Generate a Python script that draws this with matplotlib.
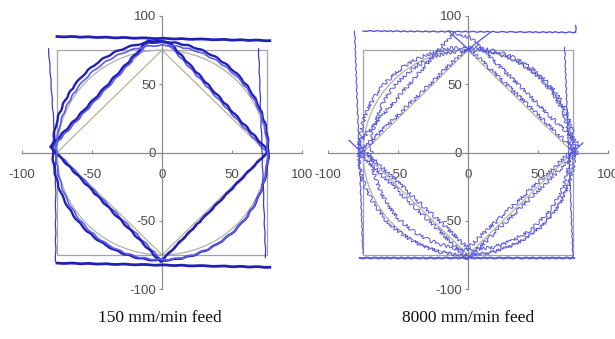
import matplotlib
matplotlib.use("Agg")
import matplotlib.pyplot as plt
from matplotlib.patches import Ellipse, Circle, Rectangle

# ---- axis ticks ----
tick_values = [-100, -50, 0, 50, 100]
tick_labels = ["-100", "-50", "0", "50", "100"]

# ---- programmed reference path (both panels) ----
ref_half = 75          # square half-size and circle radius
ref_diamond_x = [-75, 0, 75, 0, -75]
ref_diamond_y = [0, 75, 0, -75, 0]

# ---- 150 mm/min measured traces ----
slow_top_x, slow_top_y = [-75, 77], [85, 82]
slow_bot_x, slow_bot_y = [-75, 77], [-81, -84]
slow_left_x, slow_left_y = [-81, -76, -76], [76, 2, -80]
slow_right_x, slow_right_y = [69, 74], [76, -77]
slow_dia_x = [-76, -80, -10, 5, 76, -1, -76]
slow_dia_y = [0, 4, 82, 81, 1, -80, 0]
slow_dia2_x = [-75, -79, -9, 4, 75, 0, -75]
slow_dia2_y = [0, 3, 81, 80, 0, -79, 0]
slow_circ = [(-1, 1, 154, 160), (0, 0, 151, 157)]   # cx, cy, width, height

# ---- 8000 mm/min measured traces ----
fast_top_x, fast_top_y = [-75, 77, 77], [89, 88, 93]
fast_bot_x, fast_bot_y = [-77, 76], [-77, -77]
fast_left_x, fast_left_y = [-81, -75], [89, -74]
fast_right_x, fast_right_y = [69, 75], [77, -77]
fast_dia_x = [-78, 0, 78, 0, -78]
fast_dia_y = [0, 77, 0, -78, 0]
fast_dia2_x = [-79, -10, 2, 79, 0, -79]
fast_dia2_y = [6, 88, 84, 6, -70, 6]
fast_spurs = [([-14, 2], [89, 74]), ([16, -2], [88, 74]),
              ([-85, -74], [9, -2]), ([72, 82], [-3, 7])]
fast_circ = [(-1, 1, 154, 152), (2, 2, 142, 146)]

captions = ["150 mm/min feed", "8000 mm/min feed"]

W, H = 615, 339
fig = plt.figure(figsize=(W / 100, H / 100), dpi=100)
fig.patch.set_facecolor("white")

grey_sq = "#a3a3a3"
grey_circ = "#b0b0b0"
grey_dia = "#b4b496"


def make_axes(x0_px):
    ax = fig.add_axes([x0_px / W, (H - 289) / H, 280 / W, 273 / H])
    ax.set_xlim(-100, 100)
    ax.set_ylim(-100, 100)
    ax.patch.set_alpha(0)
    for s in ("top", "right"):
        ax.spines[s].set_visible(False)
    for s in ("left", "bottom"):
        ax.spines[s].set_position(("data", 0))
        ax.spines[s].set_color("#8a8a8a")
        ax.spines[s].set_linewidth(0.9)
    ax.set_xticks(tick_values)
    ax.set_xticklabels(tick_labels)
    ax.set_yticks(tick_values)
    ax.set_yticklabels(tick_labels)
    for lab in ax.get_xticklabels() + ax.get_yticklabels():
        lab.set_fontfamily("Liberation Sans")
        lab.set_fontsize(9.5)
        lab.set_color("#4a4a4a")
    ax.tick_params(axis="x", direction="in", length=2.5, width=0.8,
                   color="#8a8a8a", pad=12)
    ax.tick_params(axis="y", direction="out", length=2.5, width=0.8,
                   color="#8a8a8a", pad=2)
    # programmed reference geometry
    ax.add_patch(Rectangle((-ref_half, -ref_half), 2 * ref_half, 2 * ref_half,
                           fill=False, ec=grey_sq, lw=0.9, zorder=1))
    ax.add_patch(Circle((0, 0), ref_half, fill=False, ec=grey_circ, lw=0.9,
                        zorder=1))
    ax.plot(ref_diamond_x, ref_diamond_y, color=grey_dia, lw=0.9, zorder=1)
    return ax


# ---- left panel: 150 mm/min ----
axL = make_axes(22)
dark = "#2020b8"
light = "#5c5ce8"
wob = (0.5, 16, 2)
for x, y, lw in [(slow_top_x, slow_top_y, 2.0), (slow_bot_x, slow_bot_y, 2.0),
                 (slow_left_x, slow_left_y, 0.9),
                 (slow_right_x, slow_right_y, 0.9)]:
    ln, = axL.plot(x, y, color=dark if lw > 1 else "#3c3cd4", lw=lw, zorder=3)
    ln.set_sketch_params(0.25, 20, 2)
ln, = axL.plot(slow_dia2_x, slow_dia2_y, color=light, lw=1.3, zorder=2)
ln.set_sketch_params(*wob)
ln, = axL.plot(slow_dia_x, slow_dia_y, color=dark, lw=1.7, zorder=3)
ln.set_sketch_params(*wob)
for (cx, cy, w, h), col, lw in zip(slow_circ, [dark, light], [1.7, 1.2]):
    e = Ellipse((cx, cy), w, h, fill=False, ec=col, lw=lw, zorder=3)
    e.set_sketch_params(*wob)
    axL.add_patch(e)

# ---- right panel: 8000 mm/min ----
axR = make_axes(328)
fast = "#5656e0"
noisy = (1.8, 3, 5)
for x, y, lw in [(fast_top_x, fast_top_y, 1.0), (fast_bot_x, fast_bot_y, 1.5),
                 (fast_left_x, fast_left_y, 0.8),
                 (fast_right_x, fast_right_y, 0.8)]:
    ln, = axR.plot(x, y, color=fast, lw=lw, zorder=3)
    ln.set_sketch_params(0.4, 8, 2)
for x, y in [(fast_dia_x, fast_dia_y), (fast_dia2_x, fast_dia2_y)]:
    ln, = axR.plot(x, y, color=fast, lw=0.7, zorder=3)
    ln.set_sketch_params(*noisy)
for x, y in fast_spurs:
    axR.plot(x, y, color=fast, lw=0.9, zorder=3)
for cx, cy, w, h in fast_circ:
    e = Ellipse((cx, cy), w, h, fill=False, ec=fast, lw=0.7, zorder=3)
    e.set_sketch_params(*noisy)
    axR.add_patch(e)

# captions
for xc, txt in zip([160, 468], captions):
    fig.text(xc / W, 1 - 318 / H, txt, ha="center", va="center",
             family="Liberation Serif", fontsize=12.5, color="#111111")

fig.savefig("out.png", dpi=100)
